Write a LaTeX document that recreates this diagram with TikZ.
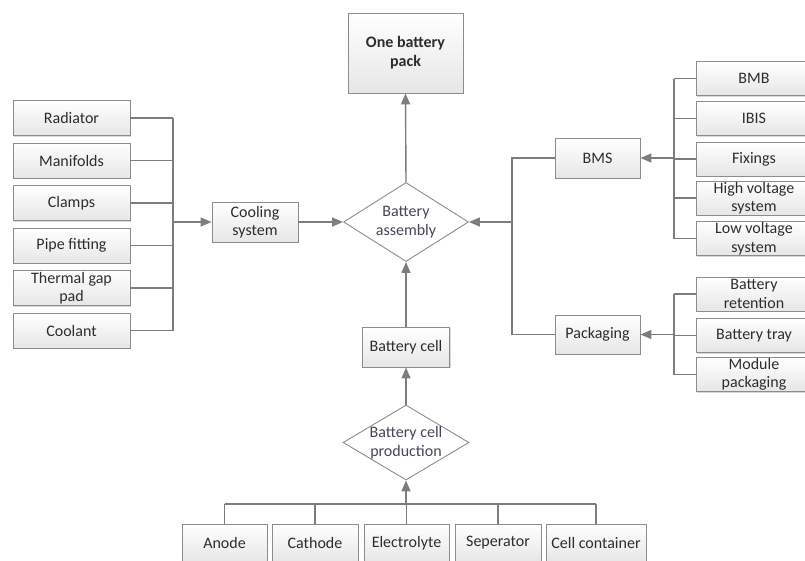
\documentclass[tikz,border=0pt]{standalone}
\usepackage{fontspec}
\setmainfont{Carlito}
\usetikzlibrary{arrows.meta,shapes.geometric,shadows}
\definecolor{lc}{RGB}{125,125,125}
\definecolor{bc}{RGB}{140,140,140}
\definecolor{tc}{RGB}{45,45,45}
\definecolor{dc}{RGB}{70,70,85}
\definecolor{bf}{RGB}{230,230,230}
\begin{document}
\begin{tikzpicture}[x=1pt,y=-1pt,
  box/.style={draw=bc, line width=0.9pt, top color=white, bottom color=bf,
    inner sep=0pt, align=center, text=tc,
    font=\fontsize{16}{18.5}\selectfont,
    drop shadow={shadow xshift=1pt,shadow yshift=-1pt,fill=black!30,opacity=.5}},
  lbox/.style={box, minimum width=117pt, minimum height=35pt},
  rbox/.style={box, minimum width=116pt, minimum height=34pt},
  bbox/.style={box, minimum height=38pt},
  mbox/.style={box, minimum width=86pt, minimum height=40pt},
  dia/.style={diamond, aspect=1.6, draw=bc, line width=0.9pt, fill=white,
    inner xsep=-10pt, inner ysep=-5pt,
    align=center, text=dc, font=\fontsize{16}{18.5}\selectfont,
    minimum width=125pt, minimum height=79pt},
  conn/.style={draw=lc, line width=1.4pt},
  arr/.style={conn, -{Triangle[length=11pt,width=9pt]}}]
\useasboundingbox (0,0) rectangle (805,560);

% centre
\node[box, minimum width=115pt, minimum height=80pt,
  font=\fontsize{16}{19}\selectfont\bfseries] (pack) at (405.5,53) {One battery\\pack};
\node[dia] (asm) at (406,222) {Battery\\assembly};
\node[mbox, minimum width=87pt] (cell) at (406,347) {Battery cell};
\node[dia, minimum height=75pt, minimum width=126pt] (prod) at (406,442.5) {Battery cell\\production};

% left
\node[lbox] (rad) at (71.5,118) {Radiator};
\node[lbox] (man) at (71.5,160.5) {Manifolds};
\node[lbox] (clm) at (71.5,203) {Clamps};
\node[lbox] (pip) at (71.5,245.5) {Pipe fitting};
\node[lbox] (thm) at (71.5,288) {Thermal gap\\pad};
\node[lbox] (col) at (71.5,330.5) {Coolant};
\node[mbox] (cool) at (255,222) {Cooling\\system};

% right
\node[mbox, minimum width=85pt] (bms) at (597.5,158) {BMS};
\node[mbox, minimum width=85pt, minimum height=39pt] (pkg) at (597.5,334.5) {Packaging};
\node[rbox] (bmb) at (754,78.5) {BMB};
\node[rbox] (ibis) at (754,118.5) {IBIS};
\node[rbox] (fix) at (754,159) {Fixings};
\node[rbox] (hv) at (754,198) {High voltage\\system};
\node[rbox] (lv) at (754,238.5) {Low voltage\\system};
\node[rbox] (ret) at (754,294) {Battery\\retention};
\node[rbox] (tray) at (754,335.5) {Battery tray};
\node[rbox] (mod) at (754,374.5) {Module\\packaging};

% bottom
\node[bbox, minimum width=85pt] (ano) at (224.5,543) {Anode};
\node[bbox, minimum width=86pt] (cat) at (315,543) {Cathode};
\node[bbox, minimum width=85pt] (ele) at (406.5,543) {Electrolyte};
\node[bbox, minimum width=86pt] (sep) at (498,543) {Seperator};
\node[bbox, minimum width=100pt] (con) at (596,543) {Cell container};

% connectors: left
\coordinate (lb) at (173,222);
\foreach \n in {rad,man,clm,pip,thm,col} \draw[conn] (\n.east) -- (\n.east -| lb);
\draw[conn] (rad.east -| lb) -- (col.east -| lb);
\draw[arr] (lb) -- (cool.west);
\draw[arr] (cool.east) -- (asm.west);

% centre
\draw[arr] (asm.north) -- (pack.south);
\draw[arr] (cell.north) -- (asm.south);
\draw[arr] (prod.north) -- (cell.south);

% bottom
\coordinate (bb) at (406,504);
\foreach \n in {ano,cat,sep,con} \draw[conn] (\n.north) -- (\n.north |- bb);
\draw[conn] (ano.north |- bb) -- (con.north |- bb);
\draw[conn] (ele.north) -- (ele.north |- bb);
\draw[arr] (bb) -- (prod.south);

% right
\coordinate (rb1) at (674,158);
\foreach \n in {bmb,ibis,fix,hv,lv} \draw[conn] (\n.west) -- (\n.west -| rb1);
\draw[conn] (bmb.west -| rb1) -- (lv.west -| rb1);
\draw[arr] (rb1) -- (bms.east);

\coordinate (rb2) at (674,334.5);
\foreach \n in {ret,tray,mod} \draw[conn] (\n.west) -- (\n.west -| rb2);
\draw[conn] (ret.west -| rb2) -- (mod.west -| rb2);
\draw[arr] (rb2) -- (pkg.east);

\coordinate (mb) at (512,222);
\draw[conn] (bms.west) -- (bms.west -| mb) -- (pkg.west -| mb) -- (pkg.west);
\draw[arr] (mb) -- (asm.east);
\end{tikzpicture}
\end{document}
